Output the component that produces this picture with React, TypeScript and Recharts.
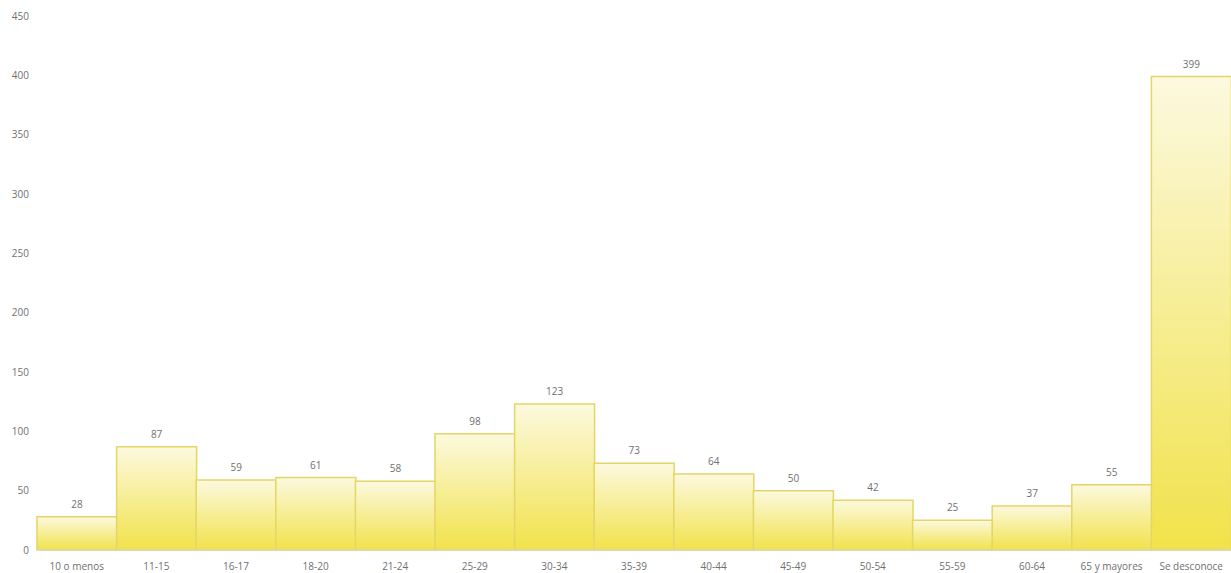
import { BarChart, Bar, XAxis, YAxis, LabelList } from 'recharts';

const categories = [
  '10 o menos', '11-15', '16-17', '18-20', '21-24', '25-29', '30-34', '35-39',
  '40-44', '45-49', '50-54', '55-59', '60-64', '65 y mayores', 'Se desconoce',
];
const counts = [28, 87, 59, 61, 58, 98, 123, 73, 64, 50, 42, 25, 37, 55, 399];
const yTicks = [0, 50, 100, 150, 200, 250, 300, 350, 400, 450];

const data = categories.map((name, i) => ({ name, value: counts[i] }));

const FONT = '"Open Sans", "Noto Sans", sans-serif';
const TEXT = '#707070';

export default function App() {
  return (
    <div style={{ width: 1231, height: 573, background: '#fff' }}>
      <style>{'body{margin:0}'}</style>
      <BarChart
        width={1231}
        height={573}
        data={data}
        margin={{ top: 16, right: 0, bottom: 0, left: 0 }}
        barCategoryGap={0}
        style={{ fontFamily: FONT }}
      >
        <defs>
          <linearGradient id="yellowFill" x1="0" y1="0" x2="0" y2="1">
            <stop offset="0%" stopColor="#fcf9df" />
            <stop offset="100%" stopColor="#f1e24a" />
          </linearGradient>
        </defs>
        <XAxis
          dataKey="name"
          height={23}
          interval={0}
          tickLine={false}
          axisLine={{ stroke: '#d4d4d4' }}
          tick={{ fontSize: 10, fill: TEXT }}
          tickMargin={7}
        />
        <YAxis
          width={37}
          domain={[0, 450]}
          ticks={yTicks}
          axisLine={false}
          tickLine={false}
          tick={{ fontSize: 10, fill: TEXT }}
        />
        <Bar
          dataKey="value"
          fill="url(#yellowFill)"
          stroke="#e4d666"
          strokeWidth={1.5}
          isAnimationActive={false}
        >
          <LabelList dataKey="value" position="top" offset={9} style={{ fontSize: 10, fill: TEXT }} />
        </Bar>
      </BarChart>
    </div>
  );
}
